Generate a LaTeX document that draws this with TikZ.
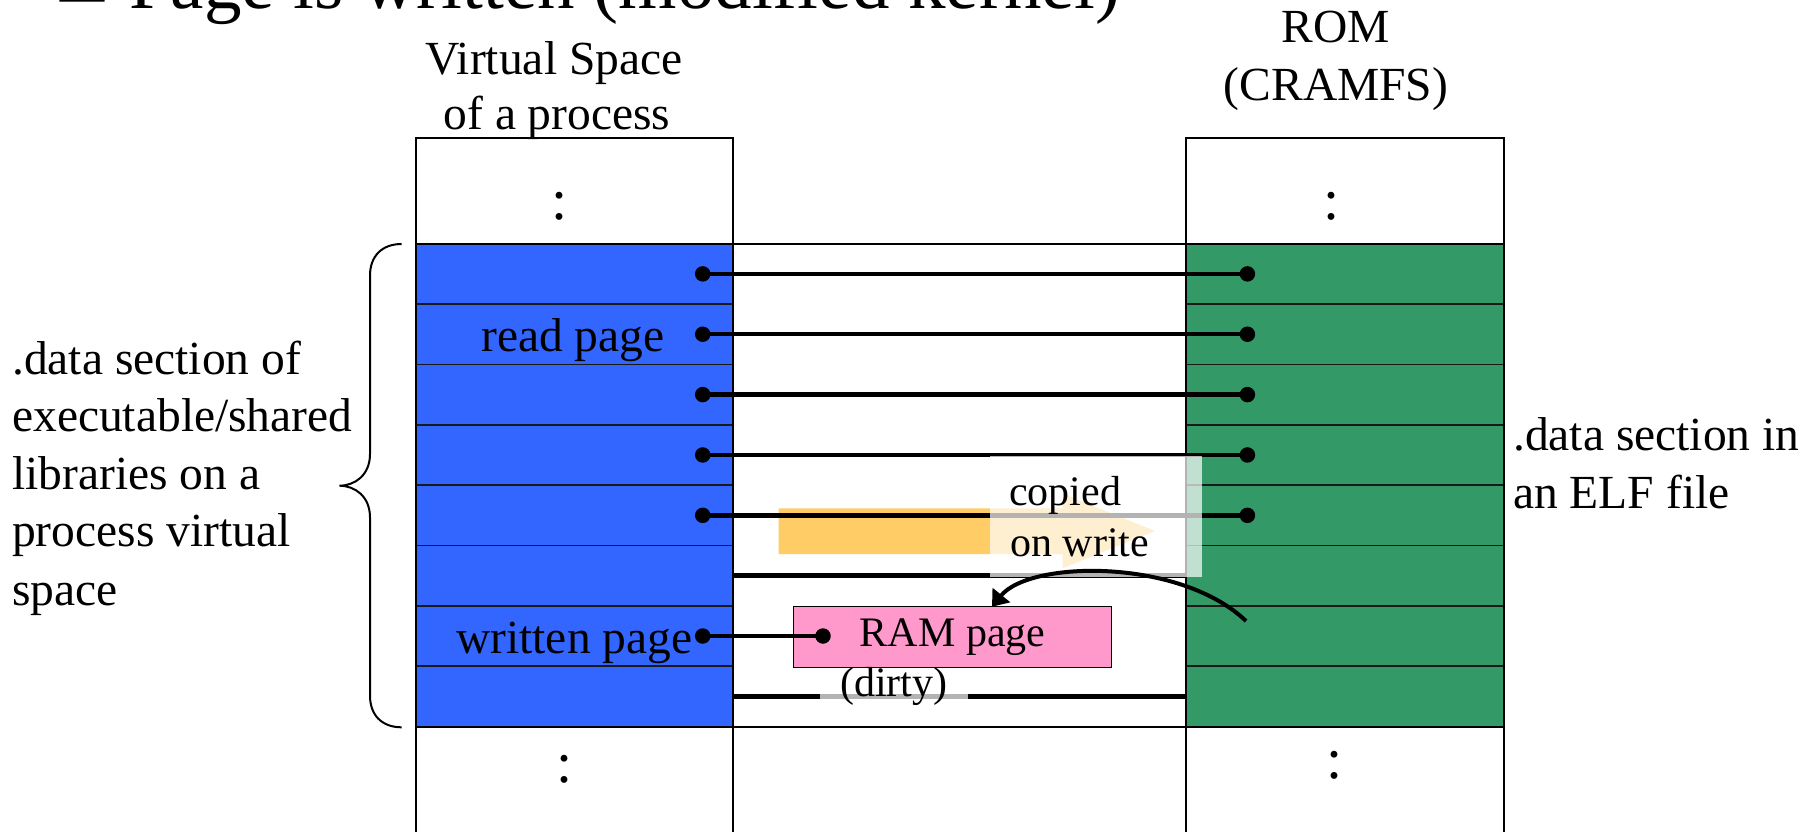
\documentclass[tikz,border=0pt]{standalone}
\usepackage{fontspec}
\setmainfont{Liberation Serif}
\usetikzlibrary{arrows.meta,calc}
\definecolor{vblue}{RGB}{51,102,255}
\definecolor{romgreen}{RGB}{51,153,102}
\definecolor{rampink}{RGB}{255,153,204}
\definecolor{coworange}{RGB}{255,204,102}
\begin{document}
\begin{tikzpicture}[x=1pt,y=-1pt,
  rowline/.style={draw=black!90, line width=1.5pt},
  colline/.style={draw=black, line width=2pt},
  conn/.style={draw=black, line width=4.5pt},
  pdot/.style={circle, fill=black, inner sep=0pt, minimum size=15.5pt},
  big/.style={font=\fontsize{47.5}{57}\selectfont, inner sep=0pt},
  small/.style={font=\fontsize{42}{50}\selectfont, inner sep=0pt},
  vdots/.style={font=\fontsize{58}{60}\selectfont, inner sep=0pt, anchor=base},
  haze/.style={fill=white, fill opacity=0.7, text opacity=1},
  rambox/.style={draw=black, line width=1.5pt, fill=rampink, inner sep=0pt,
    minimum width=318pt, minimum height=61pt, font=\fontsize{42}{50}\selectfont},
  curvearrow/.style={draw=black, line width=4pt, -{Triangle[length=15pt,width=22pt]}}
]
\useasboundingbox (0,0) rectangle (1820,832);
\clip (0,0) rectangle (1820,832);
\fill[white] (0,0) rectangle (1820,832);

% page tables: process space (blue) and ROM image (green)
\fill[vblue] (415.7,243.7) rectangle (732.7,726.6);
\fill[romgreen] (1186,243.7) rectangle (1503.8,726.6);
\foreach \i in {1,...,7}{
  \draw[rowline] (415.7,{243.7+60.36*\i}) -- (732.7,{243.7+60.36*\i});
  \draw[rowline] (1186,{243.7+60.36*\i}) -- (1503.8,{243.7+60.36*\i});
}
\draw[colline] (415.7,840) -- (415.7,137.7) -- (732.7,137.7) -- (732.7,840);
\draw[colline] (1186,840) -- (1186,137.7) -- (1503.8,137.7) -- (1503.8,840);
\draw[colline] (415.7,243.7) -- (1503.8,243.7);
\draw[colline] (415.7,726.6) -- (1503.8,726.6);

% omitted entries
\node[vdots] (vdA) at (560,219) {:};
\node[vdots] (vdB) at (1331.6,219) {:};
\node[vdots] (vdC) at (564.3,782.5) {:};
\node[vdots] (vdD) at (1335,778) {:};

% copy-on-write arrow
\fill[coworange] (778.6,508.3) -- (1062.5,508.3) -- (1062.5,493.7) -- (1155,531)
  -- (1062.5,568.3) -- (1062.5,554) -- (778.6,554) -- cycle;

% shared page mappings
\foreach \i in {1,...,5}{
  \node[pdot] (l\i) at (702.7,{243.7+60.36*(\i-0.5)}) {};
  \node[pdot] (r\i) at (1247.4,{243.7+60.36*(\i-0.5)}) {};
  \draw[conn] (l\i.center) -- (r\i.center);
}
\coordinate (l6) at (732.7,575.7);
\coordinate (r6) at (1186,575.7);
\draw[conn] (l6) -- (r6);
\coordinate (l8) at (732.7,696.4);
\coordinate (r8) at (1186,696.4);
\draw[conn] (l8) -- (r8);

% private RAM copy
\node[rambox] (ram) at (952.7,637.2) {RAM page};
\node[pdot] (l7) at (702.7,636) {};
\node[pdot] (ramdot) at (823,636) {};
\draw[conn] (l7.center) -- (ramdot.center);

% labels with light backing
\node[haze, inner sep=0pt, minimum width=211.7pt, minimum height=120.7pt] (cow) at (1095.85,516.35) {};
\node[small, anchor=base west] (cow1) at (1009,505) {copied};
\node[small, anchor=base west] (cow2) at (1010,556.7) {on write};
\node[small, haze, anchor=base, inner xsep=20pt, inner ysep=0pt, text height=24pt, text depth=10pt] (dirty) at (893.9,696) {(dirty)};

\coordinate (cs) at (1246,621);
\coordinate (ce) at (992,606.7);
\draw[curvearrow] (cs) .. controls (1180,558) and (1030,560) .. (ce);

% headings
\node[font=\fontsize{88}{90}\selectfont, inner sep=0pt, anchor=base west] (bullet) at (60,20.5) {–};
\node[font=\fontsize{75}{90}\selectfont, inner sep=0pt, anchor=base west] (title) at (129,9) {Page is written (modified kernel)};
\node[big, anchor=base] (vs1) at (554,74.3) {Virtual Space};
\node[big, anchor=base] (vs2) at (557,130) {of a process};
\node[big, anchor=base] (rom1) at (1336,43) {ROM};
\node[big, anchor=base] (rom2) at (1336,101) {(CRAMFS)};

\node[big, anchor=base west] (rp) at (481,351) {read page};
\node[big, anchor=base west] (wp) at (456,653) {written page};

\node[big, anchor=base west] (la1) at (12,374) {.data section of};
\node[big, anchor=base west] (la2) at (12,431.7) {executable/shared};
\node[big, anchor=base west] (la3) at (12,489.3) {libraries on a};
\node[big, anchor=base west] (la4) at (12,546.7) {process virtual};
\node[big, anchor=base west] (la5) at (12,605) {space};

\node[big, anchor=base west] (ra1) at (1513,450) {.data section in};
\node[big, anchor=base west] (ra2) at (1513,508.3) {an ELF file};

% brace spanning the .data pages
\draw[line width=2pt] (401.7,244) .. controls (382,244) and (370,256) .. (370,275.7)
  -- (370,454) .. controls (370,475) and (355,485.7) .. (339.3,485.7)
  .. controls (355,485.7) and (370,496.4) .. (370,517.4)
  -- (370,695.6) .. controls (370,715.3) and (382,727.3) .. (401.7,727.3);
\end{tikzpicture}
\end{document}
